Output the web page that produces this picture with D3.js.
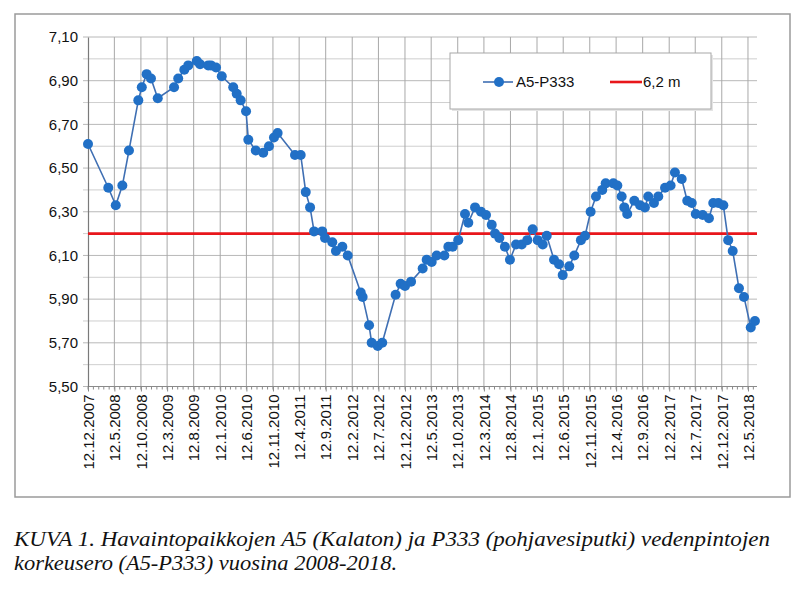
<!DOCTYPE html>
<html><head><meta charset="utf-8">
<script src="https://cdn.jsdelivr.net/npm/d3@7"></script>
<style>body{margin:0;background:#fff}svg{display:block}</style>
</head><body><svg id="c" width="809" height="598"></svg>
<script>
// ---- DATA ----
const dates = ["2007-12-12","2008-04-07","2008-05-20","2008-06-27","2008-08-04","2008-09-27","2008-10-17","2008-11-14","2008-12-09","2009-01-17",
"2009-04-21","2009-05-15","2009-06-19","2009-07-12","2009-08-30","2009-09-18","2009-11-04","2009-11-20","2009-12-19","2010-01-21",
"2010-03-28","2010-04-17","2010-05-10","2010-06-10","2010-06-23","2010-08-05","2010-09-17","2010-10-20","2010-11-18","2010-12-09",
"2011-03-19","2011-04-21","2011-05-20","2011-06-14","2011-07-07","2011-08-23","2011-09-08","2011-10-20","2011-11-10","2011-12-17",
"2012-01-17","2012-04-01","2012-04-12","2012-05-19","2012-06-03","2012-07-08","2012-08-03","2012-10-19","2012-11-17","2012-12-12",
"2013-01-16","2013-03-24","2013-04-16","2013-05-15","2013-06-13","2013-07-27","2013-08-19","2013-09-13","2013-10-15","2013-11-23",
"2013-12-12","2014-01-20","2014-02-23","2014-03-24","2014-04-26","2014-05-15","2014-06-09","2014-07-11","2014-08-09","2014-09-13",
"2014-10-16","2014-11-17","2014-12-18","2015-01-16","2015-02-14","2015-03-09","2015-04-20","2015-05-19","2015-06-09","2015-07-17",
"2015-08-15","2015-09-22","2015-10-16","2015-11-17","2015-12-18","2016-01-23","2016-02-12","2016-03-27","2016-04-19","2016-05-14",
"2016-05-29","2016-06-15","2016-07-26","2016-08-28","2016-09-25","2016-10-14","2016-11-16","2016-12-11","2017-01-19","2017-02-20",
"2017-03-17","2017-04-25","2017-05-27","2017-06-22","2017-07-15","2017-08-24","2017-09-29","2017-10-24","2017-11-22","2017-12-21",
"2018-01-18","2018-02-13","2018-03-21","2018-04-19","2018-05-28","2018-06-21"];
const values = [6.61,6.41,6.33,6.42,6.58,6.81,6.87,6.93,6.91,6.82,
6.87,6.91,6.95,6.97,6.99,6.975,6.97,6.97,6.96,6.92,
6.87,6.84,6.81,6.76,6.63,6.58,6.57,6.60,6.64,6.66,
6.56,6.56,6.39,6.32,6.21,6.21,6.18,6.16,6.12,6.14,
6.10,5.93,5.91,5.78,5.70,5.685,5.70,5.92,5.97,5.96,
5.98,6.04,6.08,6.07,6.10,6.10,6.14,6.14,6.17,6.29,
6.25,6.32,6.30,6.285,6.24,6.20,6.18,6.14,6.08,6.15,
6.15,6.17,6.22,6.17,6.15,6.19,6.08,6.06,6.01,6.05,
6.10,6.17,6.19,6.30,6.37,6.40,6.43,6.43,6.42,6.37,
6.32,6.29,6.35,6.33,6.32,6.37,6.34,6.37,6.41,6.42,
6.48,6.45,6.35,6.34,6.29,6.285,6.27,6.34,6.34,6.33,
6.17,6.12,5.95,5.91,5.77,5.80];
const tickLabels = ["12.12.2007","12.5.2008","12.10.2008","12.3.2009","12.8.2009","12.1.2010","12.6.2010","12.11.2010",
"12.4.2011","12.9.2011","12.2.2012","12.7.2012","12.12.2012","12.5.2013","12.10.2013","12.3.2014","12.8.2014",
"12.1.2015","12.6.2015","12.11.2015","12.4.2016","12.9.2016","12.2.2017","12.7.2017","12.12.2017","12.5.2018"];
const yTickValues = [5.5,5.7,5.9,6.1,6.3,6.5,6.7,6.9,7.1];
const yDomain = [5.5, 7.1];
const xDomainEnd = "2018-07-03";
const refValue = 6.2;
const seriesName = "A5-P333";
const refName = "6,2 m";
const captionLines = ["KUVA 1. Havaintopaikkojen A5 (Kalaton) ja P333 (pohjavesiputki) vedenpintojen",
"korkeusero (A5-P333) vuosina 2008-2018."];

// ---- CHART ----
const svg = d3.select("#c");
const pIso = d3.utcParse("%Y-%m-%d");
const pTick = d3.utcParse("%d.%m.%Y");
const data = dates.map((d,i)=>({date:pIso(d), v:values[i]}));
const tickDates = tickLabels.map(pTick);

const L=88, R=757, T=37, B=386.5;
const x = d3.scaleUtc().domain([tickDates[0], pIso(xDomainEnd)]).range([L,R]);
const y = d3.scaleLinear().domain(yDomain).range([B,T]);

// outer frame
svg.append("rect").attr("x",15).attr("y",14).attr("width",775).attr("height",483)
  .attr("fill","#fff").attr("stroke","#9a9a9a").attr("stroke-width",1.5);

const font = "'Liberation Sans', Arial, sans-serif";

// horizontal gridlines every 0.1
const hGrid = d3.range(0,17).map(i=>yDomain[0]+i*0.1);
svg.append("g").selectAll("line").data(hGrid).join("line")
  .attr("x1",L-5).attr("x2",R).attr("y1",d=>y(d)).attr("y2",d=>y(d))
  .attr("stroke",(d,i)=> i%2===0 ? "#b8b8b8" : "#cfcfcf").attr("stroke-width",1);

// vertical gridlines at major ticks
svg.append("g").selectAll("line").data(tickDates.slice(1)).join("line")
  .attr("x1",d=>x(d)).attr("x2",d=>x(d)).attr("y1",T).attr("y2",B)
  .attr("stroke","#a8a8a8").attr("stroke-width",1);

// x axis with minor monthly ticks
const minor = d3.range(0,127).map(i=>d3.utcMonth.offset(tickDates[0], i)).filter(d=>x(d)<=R);
svg.append("g").selectAll("line").data(minor).join("line")
  .attr("x1",d=>x(d)).attr("x2",d=>x(d)).attr("y1",B).attr("y2",B+3)
  .attr("stroke","#8a8a8a");
const xAxis = d3.axisBottom(x).tickValues(tickDates).tickSize(5).tickFormat((d,i)=>tickLabels[i]);
const gx = svg.append("g").attr("transform",`translate(0,${B})`).call(xAxis);
gx.select(".domain").attr("stroke","#8a8a8a").attr("d",`M${L},0H${R}`);
gx.selectAll(".tick line").attr("stroke","#8a8a8a");
gx.selectAll(".tick text").attr("font-family",font).attr("font-size",15).attr("fill","#111")
  .attr("transform","rotate(-90)").attr("text-anchor","end").attr("x",-8).attr("y",0).attr("dy","0.35em");

// y axis
const yAxis = d3.axisLeft(y).tickValues(yTickValues).tickSize(0).tickPadding(10)
  .tickFormat(d=>d3.format(".2f")(d).replace(".",","));
const gy = svg.append("g").attr("transform",`translate(${L},0)`).call(yAxis);
gy.select(".domain").attr("stroke","#7a7a7a").attr("stroke-width",1.2);
gy.selectAll(".tick text").attr("font-family",font).attr("font-size",15).attr("fill","#111");

// reference line
svg.append("line").attr("x1",L).attr("x2",R).attr("y1",y(refValue)).attr("y2",y(refValue))
  .attr("stroke","#e8161b").attr("stroke-width",2.6);

// series line
const line = d3.line().x(d=>x(d.date)).y(d=>y(d.v));
svg.append("path").datum(data).attr("d",line).attr("fill","none")
  .attr("stroke","#3f6fb3").attr("stroke-width",1.6);
svg.append("g").selectAll("circle").data(data).join("circle")
  .attr("cx",d=>x(d.date)).attr("cy",d=>y(d.v)).attr("r",5)
  .attr("fill","#2170c6");

// legend
const lg = svg.append("g");
lg.append("rect").attr("x",452).attr("y",55).attr("width",261).attr("height",56).attr("fill","#e4e4e4");
lg.append("rect").attr("x",450).attr("y",53).attr("width",261).attr("height",56)
  .attr("fill","#fff").attr("stroke","#a8a8a8").attr("stroke-width",1);
const ly = 82;
lg.append("line").attr("x1",483).attr("x2",513).attr("y1",ly).attr("y2",ly).attr("stroke","#3f6fb3").attr("stroke-width",1.6);
lg.append("circle").attr("cx",499).attr("cy",ly).attr("r",5).attr("fill","#2170c6");
lg.append("text").attr("x",516).attr("y",ly).attr("dy","0.35em").attr("font-family",font).attr("font-size",15).attr("fill","#111").text(seriesName);
lg.append("line").attr("x1",610).attr("x2",642).attr("y1",ly).attr("y2",ly).attr("stroke","#e8161b").attr("stroke-width",2.6);
lg.append("text").attr("x",643).attr("y",ly).attr("dy","0.35em").attr("font-family",font).attr("font-size",15).attr("fill","#111").text(refName);

// caption
const cap = svg.append("g").attr("font-family","'Liberation Serif','Times New Roman',serif")
  .attr("font-style","italic").attr("font-size",21).attr("fill","#111");
cap.append("text").attr("x",14).attr("y",546).attr("textLength",756).attr("lengthAdjust","spacingAndGlyphs").text(captionLines[0]);
cap.append("text").attr("x",14).attr("y",570).attr("textLength",383).attr("lengthAdjust","spacingAndGlyphs").text(captionLines[1]);
</script></body></html>
